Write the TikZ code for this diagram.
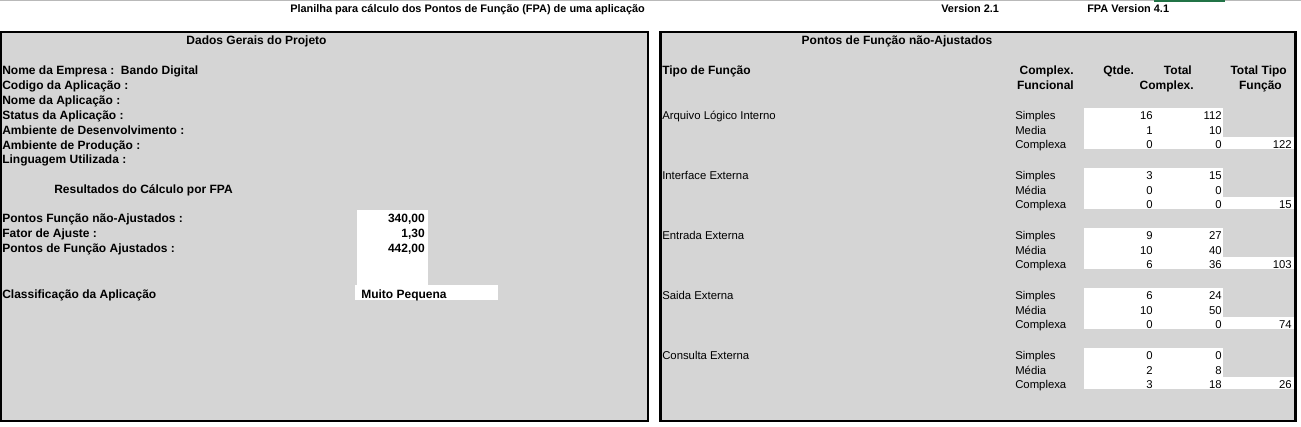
\documentclass[tikz,border=0pt]{standalone}
\usepackage{fontspec}
\setmainfont{Liberation Sans}
\definecolor{dotgray}{gray}{0.835}
\definecolor{xlgreen}{HTML}{217346}
\tikzset{
  bl/.style={font=\bfseries\fontsize{9}{10}\selectfont, inner sep=0pt, anchor=base west},
  blr/.style={bl, anchor=base east},
  blc/.style={bl, anchor=base},
  rg/.style={font=\fontsize{8.5}{10}\selectfont, inner sep=0pt, anchor=base west},
  rgr/.style={rg, anchor=base east},
  ttl/.style={font=\bfseries\fontsize{8.2}{10}\selectfont, inner sep=0pt, anchor=base west},
  panel/.style={draw=black, line width=1.8pt, fill=dotgray},
  wbox/.style={fill=white, draw=none},
}
\begin{document}
\begin{tikzpicture}[x=0.75pt,y=-0.75pt]
\useasboundingbox (0,0) rectangle (1301,426);
\fill[white] (0,0) rectangle (1301,426);
% top strip
\draw[gray!55, line width=0.9pt] (0,0.6) -- (1301,0.6);
\fill[xlgreen] (1154,0) rectangle (1225,2.2);
% title line
\node[ttl] (title) at (290,12) {Planilha para cálculo dos Pontos de Função (FPA) de uma aplicação};
\node[ttl] (ver) at (941,12) {Version 2.1};
\node[ttl] (fpaver) at (1087,12) {FPA Version 4.1};
% panels
\draw[panel] (1.2,32) rectangle (648,421);
\draw[panel] (660.5,32) rectangle (1295.5,421);
% left white boxes
\fill[wbox] (357,210) rectangle (428,285);
\fill[wbox] (355,285) rectangle (498,300);
% left panel texts
\node[blc] (dados) at (256.5,44) {Dados Gerais do Projeto};
\node[bl] (nome) at (2,74) {Nome da Empresa :\ \ Bando Digital};
\node[bl] (cod) at (2,89) {Codigo da Aplicação :};
\node[bl] (napl) at (2,104) {Nome da Aplicação :};
\node[bl] (stat) at (2,119) {Status da Aplicação :};
\node[bl] (ades) at (2,134) {Ambiente de Desenvolvimento :};
\node[bl] (aprod) at (2,149) {Ambiente de Produção :};
\node[bl] (ling) at (2,163) {Linguagem Utilizada :};
\node[bl] (res) at (54,193) {Resultados do Cálculo por FPA};
\node[bl] (pfna) at (2,222) {Pontos Função não-Ajustados :};
\node[bl] (fat) at (2,237) {Fator de Ajuste :};
\node[bl] (pfa) at (2,252) {Pontos de Função Ajustados :};
\node[bl] (cls) at (2,298) {Classificação da Aplicação};
\node[blr] (vpfna) at (425,222) {340,00};
\node[blr] (vfat) at (425,237) {1,30};
\node[blr] (vpfa) at (425,252) {442,00};
\node[bl] (vcls) at (361,298) {Muito Pequena};
% right panel header
\node[blc] (pfnaj) at (897,44) {Pontos de Função não-Ajustados};
\node[bl] (tipo) at (662,74) {Tipo de Função};
\node[blr] (hcx1) at (1074,74) {Complex.};
\node[blr] (hfun) at (1074,89) {Funcional};
\node[bl] (hqt) at (1103,74) {Qtde.};
\node[blr] (htot) at (1192,74) {Total};
\node[blr] (hcx2) at (1194,89) {Complex.};
\node[blr] (htt) at (1287,74) {Total Tipo};
\node[blr] (hfc) at (1282,89) {Função};
% groups
\foreach \k/\nm/\lab/\med/\qa/\ta/\qb/\tb/\qc/\tc/\tt in {
  0/ali/Arquivo Lógico Interno/Media/16/112/1/10/0/0/122,
  1/ie/Interface Externa/Média/3/15/0/0/0/0/15,
  2/ee/Entrada Externa/Média/9/27/10/40/6/36/103,
  3/se/Saida Externa/Média/6/24/10/50/0/0/74,
  4/ce/Consulta Externa/Média/0/0/2/8/3/18/26}{
  \pgfmathsetmacro\ya{119+60*\k}
  \pgfmathsetmacro\yb{134.5+60*\k}
  \pgfmathsetmacro\yc{148+60*\k}
  \pgfmathsetmacro\wt{108+60*\k}
  \pgfmathsetmacro\wm{137+60*\k}
  \pgfmathsetmacro\wb{149+60*\k}
  \fill[wbox] (1084,\wt) rectangle (1223,\wb);
  \fill[wbox] (1223,\wm) rectangle (1293.5,\wb);
  \node[rg] (\nm-lab) at (662,\ya) {\lab};
  \node[rg] (\nm-s) at (1015,\ya) {Simples};
  \node[rg] (\nm-m) at (1015,\yb) {\med};
  \node[rg] (\nm-c) at (1015,\yc) {Complexa};
  \node[rgr] (\nm-qa) at (1153,\ya) {\qa};
  \node[rgr] (\nm-ta) at (1222,\ya) {\ta};
  \node[rgr] (\nm-qb) at (1153,\yb) {\qb};
  \node[rgr] (\nm-tb) at (1222,\yb) {\tb};
  \node[rgr] (\nm-qc) at (1153,\yc) {\qc};
  \node[rgr] (\nm-tc) at (1222,\yc) {\tc};
  \node[rgr] (\nm-tt) at (1292,\yc) {\tt};
}
\end{tikzpicture}
\end{document}
